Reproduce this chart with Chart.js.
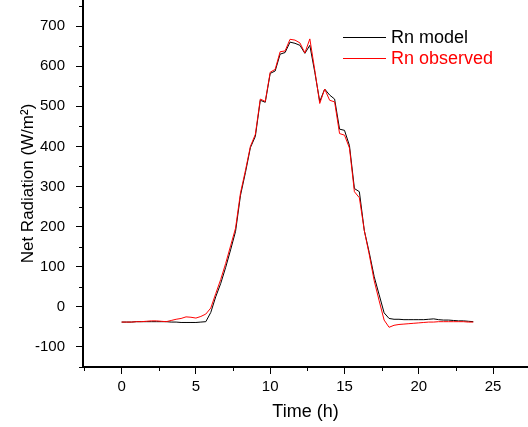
<!DOCTYPE html>
<html>
<head>
<meta charset="utf-8">
<script src="https://cdn.jsdelivr.net/npm/chart.js@4/dist/chart.umd.min.js"></script>
<style>
  html, body { margin: 0; padding: 0; background: #ffffff; overflow: hidden; }
  #wrap { width: 528px; height: 427px; }
</style>
</head>
<body>
<div id="wrap"><canvas id="c" width="528" height="427"></canvas></div>
<script>
// Time of day (h), sampled every 20 minutes
const hours = Array.from({length: 72}, (_, k) => k / 3);

// Net radiation (W/m2)
const rnModel = [
  -38, -38, -38, -37, -37, -37, -37, -37, -37, -37, -38, -38,
  -39, -39, -39, -39, -38, -37, -14, 25, 58, 98, 142, 188,
  278, 335, 397, 425, 515, 510, 582, 588, 630, 634, 660, 657,
  652, 632, 652, 585, 512, 543, 528, 518, 443, 440, 402, 295,
  287, 190, 135, 75, 30, -15, -29, -31, -31, -32, -32, -32,
  -32, -32, -31, -30, -32, -33, -33, -34, -35, -35, -36, -37
];
const rnObserved = [
  -38, -38, -38, -37, -37, -36, -35, -35, -36, -37, -34, -31,
  -29, -25, -26, -28, -24, -18, -3, 33, 68, 108, 152, 196,
  284, 340, 400, 430, 518, 512, 585, 592, 636, 638, 667, 665,
  658, 633, 668, 590, 507, 543, 515, 511, 432, 428, 396, 287,
  272, 190, 130, 65, 15, -33, -51, -46, -44, -43, -42, -41,
  -40, -39, -38, -38, -37, -37, -37, -37, -37, -37, -38, -38
];

const xMajorTicks = [0, 5, 10, 15, 20, 25];
const xMinorTicks = [-2.5, 2.5, 7.5, 12.5, 17.5, 22.5];
const yMajorTicks = [-100, 0, 100, 200, 300, 400, 500, 600, 700];
const yMinorTicks = [-150, -50, 50, 150, 250, 350, 450, 550, 650, 750];

const seriesLabels = ['Rn model', 'Rn observed'];
const seriesColors = ['#000000', '#ff0000'];

const FONT = "'Liberation Sans', Arial, Helvetica, sans-serif";

const minorTicksPlugin = {
  id: 'minorTicks',
  afterDraw(chart) {
    const {ctx, scales: {x, y}, chartArea} = chart;
    ctx.save();
    ctx.strokeStyle = '#000';
    ctx.lineWidth = 1;
    ctx.beginPath();
    xMinorTicks.forEach(v => {
      if (v < x.min || v > x.max) return;
      const px = Math.round(x.getPixelForValue(v)) + 0.5;
      ctx.moveTo(px, chartArea.bottom);
      ctx.lineTo(px, chartArea.bottom + 4);
    });
    yMinorTicks.forEach(v => {
      if (v < y.min || v > y.max) return;
      const py = Math.round(y.getPixelForValue(v)) + 0.5;
      ctx.moveTo(chartArea.left, py);
      ctx.lineTo(chartArea.left - 4, py);
    });
    ctx.stroke();
    ctx.restore();
  }
};

const legendPlugin = {
  id: 'innerLegend',
  afterDraw(chart) {
    const {ctx} = chart;
    ctx.save();
    ctx.font = '18px ' + FONT;
    ctx.textBaseline = 'middle';
    ctx.textAlign = 'left';
    const x0 = 343, x1 = 386, tx = 391;
    const ys = [37, 58];
    chart.data.datasets.forEach((ds, i) => {
      ctx.strokeStyle = ds.borderColor;
      ctx.lineWidth = 1;
      ctx.beginPath();
      ctx.moveTo(x0, ys[i] + 0.5);
      ctx.lineTo(x1, ys[i] + 0.5);
      ctx.stroke();
      ctx.fillStyle = ds.borderColor;
      ctx.fillText(ds.label, tx, ys[i] + 1);
    });
    ctx.restore();
  }
};

new Chart(document.getElementById('c'), {
  type: 'line',
  data: {
    datasets: [
      {
        label: seriesLabels[0],
        data: hours.map((h, i) => ({x: h, y: rnModel[i]})),
        borderColor: seriesColors[0],
        borderWidth: 1,
        pointRadius: 0,
        tension: 0,
        order: 2
      },
      {
        label: seriesLabels[1],
        data: hours.map((h, i) => ({x: h, y: rnObserved[i]})),
        borderColor: seriesColors[1],
        borderWidth: 1,
        pointRadius: 0,
        tension: 0,
        order: 1
      }
    ]
  },
  options: {
    responsive: false,
    devicePixelRatio: 1,
    animation: false,
    layout: { padding: 0 },
    plugins: {
      legend: { display: false },
      tooltip: { enabled: false }
    },
    scales: {
      x: {
        type: 'linear',
        min: -2.6,
        max: 27.35,
        afterBuildTicks(scale) { scale.ticks = xMajorTicks.map(v => ({value: v})); },
        afterFit(scale) { scale.height = 60; scale.paddingLeft = 0; scale.paddingRight = 0; },
        grid: { drawOnChartArea: false, drawTicks: true, tickLength: 7, color: '#000', lineWidth: 1 },
        border: { display: true, color: '#000', width: 2 },
        ticks: { color: '#000', font: { family: FONT, size: 15 }, padding: 4, maxRotation: 0 },
        title: { display: true, text: 'Time (h)', color: '#000', font: { family: FONT, size: 18 }, padding: { top: 0, bottom: 4 } }
      },
      y: {
        type: 'linear',
        min: -150,
        max: 765,
        afterBuildTicks(scale) { scale.ticks = yMajorTicks.map(v => ({value: v})); },
        afterFit(scale) { scale.width = 83; scale.paddingTop = 0; scale.paddingBottom = 0; },
        grid: { drawOnChartArea: false, drawTicks: true, tickLength: 7, color: '#000', lineWidth: 1 },
        border: { display: true, color: '#000', width: 2 },
        ticks: { color: '#000', font: { family: FONT, size: 15 }, padding: 11 },
        title: { display: true, text: 'Net Radiation (W/m²)', color: '#000', font: { family: FONT, size: 17 }, padding: { top: 18, bottom: 0 } }
      }
    }
  },
  plugins: [minorTicksPlugin, legendPlugin]
});
</script>
</body>
</html>
